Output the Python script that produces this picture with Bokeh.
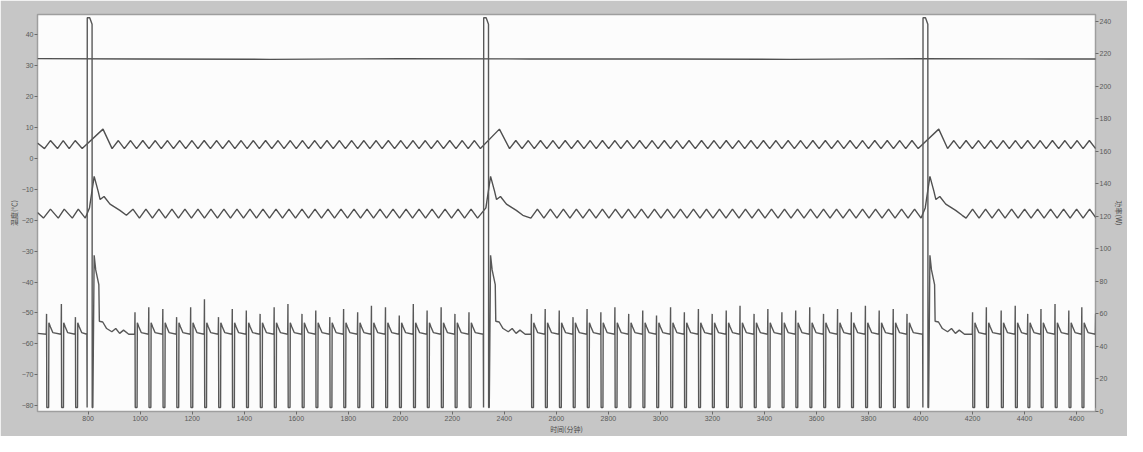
from bokeh.plotting import figure
from bokeh.models import Range1d, LinearAxis, FixedTicker
from bokeh.embed import file_html
from bokeh.resources import INLINE

# ---------------- data ----------------
x_ticks = list(range(800, 4601, 200))
left_ticks = list(range(-80, 41, 10))
right_ticks = list(range(0, 241, 20))

x_label = "时间(分钟)"
left_label = "温度(℃)"
right_label = "功率(W)"

# ambient temperature (°C)
ambient_t = [605, 1000, 1500, 2000, 2500, 3000, 3500, 4000, 4500, 4715]
ambient_v = [32.3, 32.2, 32.1, 32.3, 32.2, 32.2, 32.1, 32.3, 32.2, 32.2]

# defrost start times (min)
defrost_start = [796, 2320, 4009]

# fridge compartment (°C): zigzag turning points
fridge_start = (605, 5.0)
fridge_end = (4715, 3.9)
fridge_trough_v = 3.2
fridge_peak_v = 5.8
fridge_defrost_peak_v = 9.5
fridge_defrost_peak_t = [857, 2381, 4070]
fridge_trough_t = [632, 682, 727, 777,
    892, 939, 986, 1034, 1081, 1128, 1175, 1222, 1270, 1317, 1364, 1411, 1458, 1506, 1553, 1600,
    1647, 1694, 1742, 1789, 1836, 1883, 1930, 1978, 2025, 2072, 2119, 2166, 2214, 2261, 2308,
    2420, 2468, 2515, 2563, 2610, 2658, 2706, 2753, 2801, 2848, 2896, 2944, 2991, 3039, 3086, 3134,
    3182, 3229, 3277, 3324, 3372, 3420, 3467, 3515, 3562, 3610, 3658, 3705, 3753, 3800, 3848, 3896,
    3943, 3991,
    4104, 4151, 4199, 4246, 4294, 4341, 4388, 4436, 4483, 4531, 4578, 4625, 4673]
fridge_peak_t = [655, 704, 750,
    916, 963, 1010, 1058, 1105, 1152, 1199, 1246, 1294, 1341, 1388, 1435, 1482, 1530, 1577, 1624,
    1671, 1718, 1766, 1813, 1860, 1907, 1954, 2002, 2049, 2096, 2143, 2190, 2238, 2285,
    2444, 2492, 2539, 2587, 2634, 2682, 2730, 2777, 2825, 2872, 2920, 2968, 3015, 3063, 3110, 3158,
    3206, 3253, 3301, 3348, 3396, 3444, 3491, 3539, 3586, 3634, 3682, 3729, 3777, 3824, 3872, 3920,
    3967,
    4128, 4175, 4223, 4270, 4318, 4365, 4412, 4460, 4507, 4555, 4602, 4649, 4697]

# freezer compartment (°C)
freezer_start = (605, -17.5)
freezer_end = (4715, -17.3)
freezer_trough_v = -19.3
freezer_peak_v = -16.4
freezer_trough_t = [628, 685, 739, 789,
    997, 1047, 1097, 1147, 1197, 1247, 1297, 1347, 1397, 1447, 1497, 1547, 1597, 1647, 1697, 1747,
    1797, 1847, 1897, 1947, 1997, 2047, 2097, 2147, 2197, 2247, 2297,
    2502, 2552, 2602, 2652, 2702, 2752, 2802, 2852, 2902, 2952, 3002, 3052, 3102, 3152, 3202, 3252,
    3302, 3352, 3402, 3452, 3502, 3552, 3602, 3652, 3702, 3752, 3802, 3852, 3902, 3952, 4002,
    4175, 4225, 4275, 4325, 4375, 4425, 4475, 4525, 4575, 4625, 4675]
freezer_peak_t = [655, 708, 762,
    972, 1022, 1072, 1122, 1172, 1222, 1272, 1322, 1372, 1422, 1472, 1522, 1572, 1622, 1672, 1722,
    1772, 1822, 1872, 1922, 1972, 2022, 2072, 2122, 2172, 2222, 2272,
    2527, 2577, 2627, 2677, 2727, 2777, 2827, 2877, 2927, 2977, 3027, 3077, 3127, 3177, 3227, 3277,
    3327, 3377, 3427, 3477, 3527, 3577, 3627, 3677, 3727, 3777, 3827, 3877, 3927, 3977,
    4200, 4250, 4300, 4350, 4400, 4450, 4500, 4550, 4600, 4650, 4700]
# freezer response after each defrost start (minutes after start, °C)
freezer_defrost_dt = [9, 27, 42, 50, 65, 88, 126, 151]
freezer_defrost_v = [-16.0, -5.8, -10.5, -13.3, -12.3, -14.8, -16.8, -18.4]

# power (W): compressor off-pulses
power_start = (605, 48.0)
power_end = (4715, 47.5)
pulse_t = [640, 697, 751,
    980, 1033, 1087, 1140, 1194, 1247, 1301, 1354, 1408, 1461, 1515, 1568, 1622, 1675, 1729, 1782,
    1836, 1889, 1943, 1996, 2050, 2103, 2157, 2210, 2264,
    2504, 2557, 2611, 2664, 2718, 2771, 2825, 2878, 2932, 2985, 3039, 3092, 3146, 3199, 3253, 3306,
    3360, 3413, 3467, 3520, 3574, 3627, 3681, 3734, 3788, 3841, 3895, 3948,
    4200, 4253, 4310, 4364, 4412, 4463, 4517, 4570, 4620, 4673]
pulse_peak = [60, 66, 58,
    61, 64, 63, 58, 64, 69, 58, 63, 62, 60, 64, 66, 60, 62, 58, 63, 61, 65, 64, 59, 66, 62, 64, 60, 61,
    60, 63, 62, 58, 63, 61, 64, 60, 62, 59, 64, 61, 63, 60, 62, 65, 60, 63, 61, 62, 64, 60, 63, 61, 65,
    62, 63, 60,
    61, 64, 62, 65, 60, 63, 66, 62, 64, 60]
# pulse shape (minutes after pulse, W); None = the pulse's own peak
pulse_dt = [-1, 0, 1, 8, 9, 15, 24]
pulse_v = [47.5, None, 2.5, 2.5, 54.5, 52.0, 48.5]
# defrost shape (minutes after defrost start, W)
power_defrost_dt = [-1, 0, 0.5, 10, 19, 19.5, 22, 27, 33, 45, 47, 60, 75, 95, 110, 125, 140, 160]
power_defrost_v = [47.5, 2.5, 242, 242, 238, 2.5, 2.5, 96, 87, 78, 55.5, 55, 51, 49, 51, 48, 50, 47.5]


def build(events):
    events = sorted(events, key=lambda e: e[0])
    return [e[0] for e in events], [e[1] for e in events]


fr_ev = [fridge_start, fridge_end]
fr_ev += [(t, fridge_trough_v) for t in fridge_trough_t]
fr_ev += [(t, fridge_peak_v) for t in fridge_peak_t]
fr_ev += [(t, fridge_defrost_peak_v) for t in fridge_defrost_peak_t]
fr_t, fr_v = build(fr_ev)

fz_ev = [freezer_start, freezer_end]
fz_ev += [(t, freezer_trough_v) for t in freezer_trough_t]
fz_ev += [(t, freezer_peak_v) for t in freezer_peak_t]
for td in defrost_start:
    fz_ev += [(td + d, v) for d, v in zip(freezer_defrost_dt, freezer_defrost_v)]
fz_t, fz_v = build(fz_ev)

pw_ev = [power_start, power_end]
for t, pk in zip(pulse_t, pulse_peak):
    pw_ev += [(t + d, pk if v is None else v) for d, v in zip(pulse_dt, pulse_v)]
for td in defrost_start:
    pw_ev += [(td + d, v) for d, v in zip(power_defrost_dt, power_defrost_v)]
pw_t, pw_v = build(pw_ev)

# ---------------- figure ----------------
p = figure(width=1127, height=436, output_backend="svg", toolbar_location=None,
           x_range=Range1d(605.2, 4672.6), y_range=Range1d(-81.9, 46.6),
           min_border_left=37, min_border_right=25, min_border_top=14, min_border_bottom=20)
p.extra_y_ranges = {"power": Range1d(0, 244)}
p.background_fill_color = "#fcfcfc"
p.border_fill_color = "#c6c6c6"
p.outline_line_color = "#9e9e9e"
p.outline_line_width = 1.5
p.grid.visible = False

right = LinearAxis(y_range_name="power")
p.add_layout(right, "right")

p.xaxis[0].ticker = FixedTicker(ticks=x_ticks)
p.yaxis[0].ticker = FixedTicker(ticks=left_ticks)
right.ticker = FixedTicker(ticks=right_ticks)
p.xaxis[0].axis_label = x_label
p.yaxis[0].axis_label = left_label
right.axis_label = right_label

for ax in [p.xaxis[0], p.yaxis[0], right]:
    ax.axis_line_color = None
    ax.major_tick_line_color = "#6a6a6a"
    ax.major_tick_out = 3
    ax.major_tick_in = 0
    ax.minor_tick_line_color = None
    ax.major_label_text_font_size = "7px"
    ax.major_label_text_color = "#5a5a5a"
    ax.major_label_text_font = "Liberation Sans"
    ax.major_label_standoff = 1
    ax.axis_label_text_font = "Noto Sans CJK SC"
    ax.axis_label_text_font_size = "7px"
    ax.axis_label_text_font_style = "normal"
    ax.axis_label_text_color = "#4a4a4a"
    ax.axis_label_standoff = 0

col = "#505050"
p.line(ambient_t, ambient_v, color=col, line_width=1.3)
p.line(fr_t, fr_v, color=col, line_width=1.4)
p.line(fz_t, fz_v, color=col, line_width=1.4)
p.line(pw_t, pw_v, color="#585858", line_width=1.4, y_range_name="power")

open("out.html", "w").write(file_html(p, INLINE))
